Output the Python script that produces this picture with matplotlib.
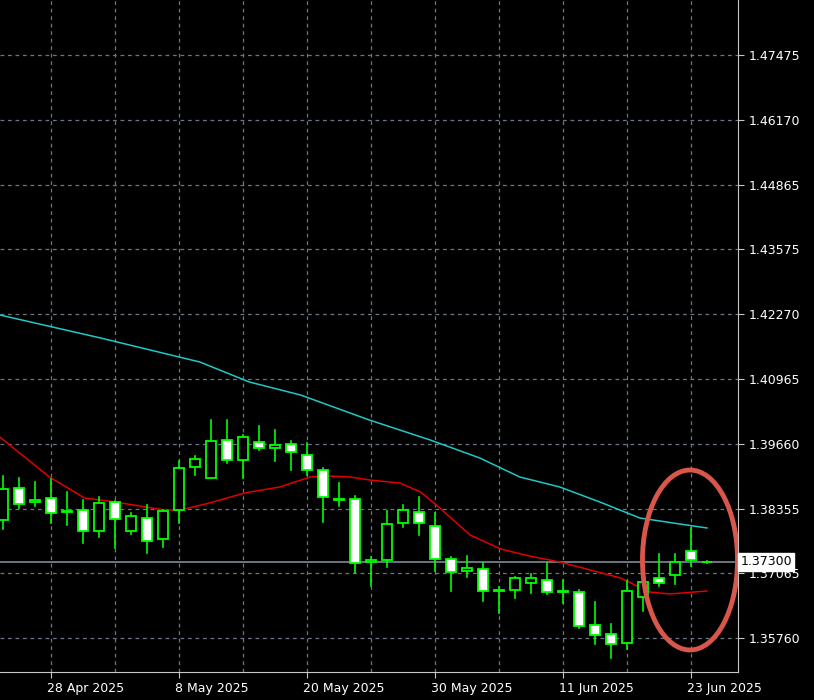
import matplotlib
matplotlib.use("Agg")
import matplotlib.pyplot as plt
from matplotlib.patches import Rectangle, Ellipse

opens  = [1.38137,1.38780,1.38499,1.38579,1.38318,1.38338,1.37917,1.38499,1.37917,1.38178,
          1.37756,1.38338,1.39202,1.38981,1.39744,1.39342,1.39704,1.39583,1.39663,1.39443,
          1.39141,1.38559,1.38559,1.37294,1.37334,1.38077,1.38298,1.38017,1.37355,1.37113,
          1.37154,1.36732,1.36732,1.36873,1.36933,1.36712,1.36692,1.36029,1.35848,1.35667,
          1.36591,1.36973,1.37033,1.37515,1.37294]
highs  = [1.39021,1.38981,1.38900,1.38961,1.38700,1.38539,1.38599,1.38519,1.38278,1.38439,
          1.38338,1.39322,1.39423,1.40145,1.40145,1.39844,1.40025,1.39945,1.39724,1.39684,
          1.39182,1.38880,1.38619,1.37395,1.38318,1.38439,1.38599,1.38278,1.37395,1.37415,
          1.37274,1.36792,1.36993,1.37053,1.37274,1.36933,1.36732,1.36491,1.36049,1.36913,
          1.36893,1.37455,1.37455,1.37977,1.37314]
lows   = [1.37957,1.38378,1.38419,1.38077,1.38037,1.37676,1.37796,1.37575,1.37857,1.37475,
          1.37595,1.38077,1.39041,1.38981,1.39282,1.38981,1.39543,1.39322,1.39141,1.39041,
          1.38097,1.38419,1.37073,1.36812,1.37194,1.37997,1.37836,1.37113,1.36712,1.36993,
          1.36511,1.36270,1.36571,1.36672,1.36652,1.36471,1.35969,1.35647,1.35366,1.35547,
          1.36310,1.36812,1.36853,1.37214,1.37274]
closes = [1.38760,1.38459,1.38539,1.38278,1.38298,1.37917,1.38479,1.38158,1.38218,1.37716,
          1.38318,1.39182,1.39362,1.39724,1.39342,1.39804,1.39583,1.39643,1.39503,1.39141,
          1.38599,1.38539,1.37274,1.37334,1.38057,1.38338,1.38077,1.37355,1.37093,1.37174,
          1.36712,1.36712,1.36973,1.36973,1.36692,1.36692,1.36009,1.35828,1.35647,1.36712,
          1.36893,1.36873,1.37294,1.37334,1.37300]

red_x = [-0.2,2.9,5.1,7,10.1,11.1,12.9,15.1,17.3,19.2,20.4,21.7,22.9,24.8,26.1,27.3,29.2,31.1,32.9,34.8,36.7,38.6,40.4,41.7,44]
red_y = [1.39804,1.39001,1.38579,1.38499,1.38338,1.38338,1.38479,1.38680,1.38800,1.39001,1.39021,1.39001,1.38941,1.38880,1.38700,1.38378,1.37836,1.37555,1.37415,1.37294,1.37134,1.36973,1.36692,1.36652,1.36712]
cyan_x = [-0.2,6.1,12.3,15.4,18.6,22.9,26.7,29.8,32.3,34.8,37.3,39.8,42.3,44]
cyan_y = [1.42254,1.41792,1.41310,1.40908,1.40647,1.40145,1.39744,1.39382,1.39001,1.38800,1.38499,1.38178,1.38057,1.37977]

price_ticks = [1.47475,1.46170,1.44865,1.43575,1.42270,1.40965,1.39660,1.38355,1.37065,1.35760]
date_idx = [3,11,19,27,35,43]
date_labels = ["28 Apr 2025","8 May 2025","20 May 2025","30 May 2025","11 Jun 2025","23 Jun 2025"]
last_price = 1.37300

fig = plt.figure(figsize=(8.14,7.0), dpi=100, facecolor='black')
ax = fig.add_axes([0, 28/700, 738/814, 672/700], facecolor='black')
ax.set_xlim(-0.1875, 45.94)
ax.set_ylim(1.35085, 1.48579)

gc = '#6b7585'
for p in price_ticks:
    ax.axhline(p, color=gc, ls=(0,(3,3)), lw=0.9, zorder=0)
for k in range(3, 46, 4):
    ax.axvline(k, color=gc, ls=(0,(3,3)), lw=0.9, zorder=0)

ax.axhline(last_price, color='#7f8a99', lw=1.2, zorder=1)
ax.plot(red_x, red_y, color='#e00000', lw=1.1, zorder=2)
ax.plot(cyan_x, cyan_y, color='#20c8c8', lw=1.1, zorder=2)

g = '#00ff00'
w = 0.6
for i,(o,h,l,c) in enumerate(zip(opens,highs,lows,closes)):
    ax.plot([i,i],[l,h], color=g, lw=1.2, zorder=3)
    lo, hi = min(o,c), max(o,c)
    face = 'black' if c > o else 'white'
    ax.add_patch(Rectangle((i-w/2, lo), w, max(hi-lo, 0.00008), facecolor=face, edgecolor=g, lw=1.3, zorder=4))

ax.add_patch(Ellipse((42.94, 1.37334), 5.94, 0.03614, fill=False, edgecolor='#d9574a', lw=3.5, zorder=5))

for s in ['top','left']:
    ax.spines[s].set_visible(False)
for s in ['right','bottom']:
    ax.spines[s].set_color('#c8c8c8')
ax.yaxis.tick_right()
ax.set_yticks(price_ticks)
ax.set_yticklabels([f"{p:.5f}" for p in price_ticks], color='white', fontsize=9)
ax.set_xticks(date_idx)
ax.set_xticklabels(date_labels, color='white', fontsize=9, ha='left')
ax.tick_params(colors='#c8c8c8', length=4, labelcolor='white')
for t in ax.get_xticklabels():
    t.set_x(t.get_position()[0])
import matplotlib.transforms as mt
off = mt.ScaledTranslation(-3/72, 0, fig.dpi_scale_trans)
for t in ax.get_xticklabels():
    t.set_transform(t.get_transform() + off)

ax.text(1.003, last_price, f"{last_price:.5f}", transform=ax.get_yaxis_transform(),
        va='center', ha='left', fontsize=9, color='black', zorder=10,
        bbox=dict(facecolor='white', edgecolor='white', boxstyle='square,pad=0.2'))

fig.savefig('out.png', dpi=100, facecolor='black')
